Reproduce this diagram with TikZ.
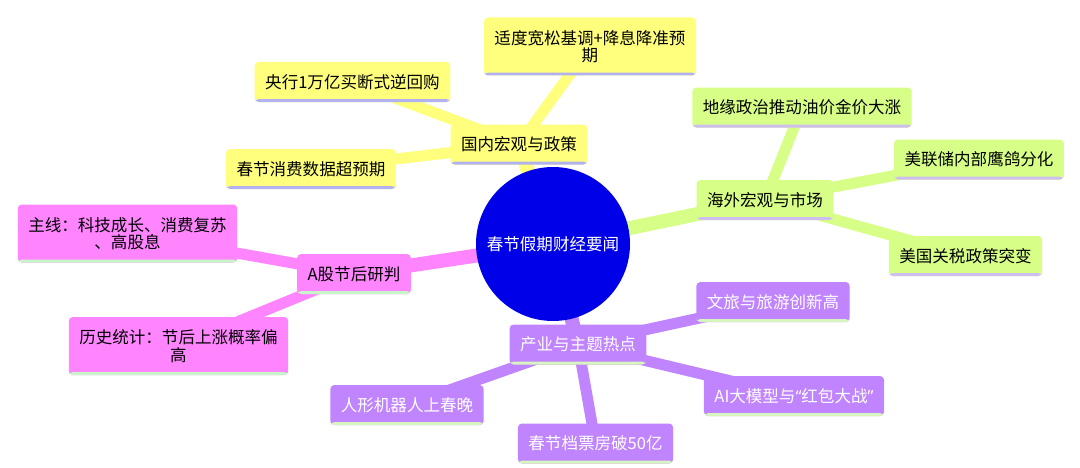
\documentclass[tikz,border=0pt]{standalone}
\usepackage{fontspec}
\newfontfamily\cjk{Noto Sans CJK SC}
\newfontfamily\latq{Noto Sans}
\usetikzlibrary{backgrounds}
\definecolor{rootblue}{RGB}{0,0,232}
\definecolor{domfill}{RGB}{255,255,125}
\definecolor{ovsfill}{RGB}{215,255,135}
\definecolor{ashfill}{RGB}{255,133,255}
\definecolor{indfill}{RGB}{192,132,255}
\definecolor{domline}{RGB}{178,178,240}
\definecolor{ovsline}{RGB}{206,190,240}
\definecolor{ashline}{RGB}{200,245,200}
\definecolor{indline}{RGB}{215,245,190}
\begin{document}
\begin{tikzpicture}[x=0.75pt,y=-0.75pt,
every node/.style={font=\cjk\fontsize{12.4pt}{13pt}\selectfont},
box/.style 2 args={rounded corners=3pt,align=center,inner xsep=7.9pt,inner ysep=2pt,minimum height=30pt,fill=#1,
  path picture={\fill[#2] ([yshift=2.2pt]path picture bounding box.south west) rectangle (path picture bounding box.south east);}},
tall/.style={minimum height=43.5pt},
dombox/.style={box={domfill}{domline}},
ovsbox/.style={box={ovsfill}{ovsline}},
ashbox/.style={box={ashfill}{ashline}},
indbox/.style={box={indfill}{indline},text=white},
trunk/.style={line width=10.5pt},
twig/.style={line width=8.25pt}]
\useasboundingbox (0,0) rectangle (1080,467);
\node[circle,fill=rootblue,text=white,minimum size=115.5pt,inner sep=0pt] (root) at (553,244) {春节假期财经要闻};
\node[dombox] (dom) at (519,144.5) {国内宏观与政策};
\node[dombox] (pboc) at (352.5,82) {央行1万亿买断式逆回购};
\node[dombox] (cons) at (311,169) {春节消费数据超预期};
\node[dombox,tall] (easing) at (590,46.5) {适度宽松基调+降息降准预\\期};
\node[ovsbox] (ovs) at (765,200) {海外宏观与市场};
\node[ovsbox] (geo) at (802,107.5) {地缘政治推动油价金价大涨};
\node[ovsbox] (fed) at (979,159.5) {美联储内部鹰鸽分化};
\node[ovsbox] (tariff) at (965.5,256) {美国关税政策突变};
\node[ashbox] (ashare) at (354,274) {A股节后研判};
\node[ashbox,tall] (mainline) at (127.5,233.5) {主线：科技成长、消费复苏\\、高股息};
\node[ashbox,tall] (hist) at (178.5,346) {历史统计：节后上涨概率偏\\高};
\node[indbox] (ind) at (578,344.5) {产业与主题热点};
\node[indbox] (travel) at (773,302) {文旅与旅游创新高};
\node[indbox] (ai) at (794,396) {AI大模型与{\latq “}红包大战{\latq ”}};
\node[indbox] (boxoff) at (595.5,443.5) {春节档票房破50亿};
\node[indbox] (robot) at (407,405) {人形机器人上春晚};
\begin{scope}[on background layer]
\draw[trunk,domfill] (root.center)--(dom.center);\draw[trunk,ovsfill] (root.center)--(ovs.center);
\draw[trunk,ashfill] (root.center)--(ashare.center);\draw[trunk,indfill] (root.center)--(ind.center);
\draw[twig,domfill] (dom.center)--(pboc.center);\draw[twig,domfill] (dom.center)--(cons.center);\draw[twig,domfill] (dom.center)--(easing.center);
\draw[twig,ovsfill] (ovs.center)--(geo.center);\draw[twig,ovsfill] (ovs.center)--(fed.center);\draw[twig,ovsfill] (ovs.center)--(tariff.center);
\draw[twig,ashfill] (ashare.center)--(mainline.center);\draw[twig,ashfill] (ashare.center)--(hist.center);
\draw[twig,indfill] (ind.center)--(travel.center);\draw[twig,indfill] (ind.center)--(ai.center);
\draw[twig,indfill] (ind.center)--(boxoff.center);\draw[twig,indfill] (ind.center)--(robot.center);
\end{scope}
\end{tikzpicture}
\end{document}
